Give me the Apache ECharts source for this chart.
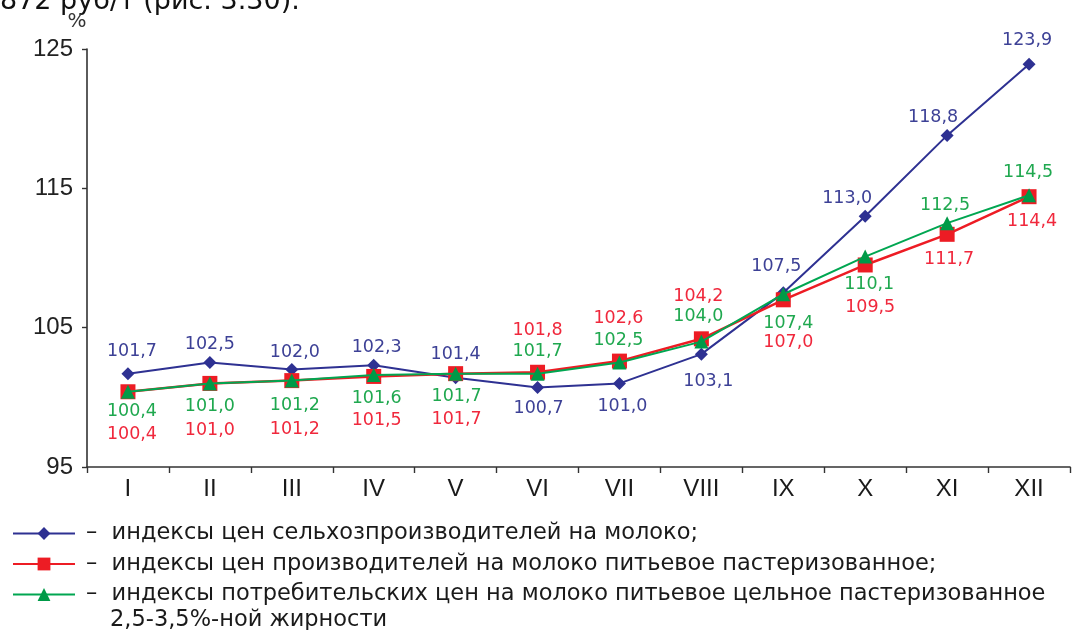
<!DOCTYPE html>
<html>
<head>
<meta charset="utf-8">
<script src="https://cdn.jsdelivr.net/npm/echarts@6/dist/echarts.min.js"></script>
<style>
  html, body { margin: 0; padding: 0; background: #fff; }
  #chart { width: 1074px; height: 630px; }
</style>
</head>
<body>
<div id="chart"></div>
<script>
// Months of the year
const months = ['I', 'II', 'III', 'IV', 'V', 'VI', 'VII', 'VIII', 'IX', 'X', 'XI', 'XII'];

// Price indices, % (cumulative to December of the previous year)
const farmPrices     = [101.7, 102.5, 102.0, 102.3, 101.4, 100.7, 101.0, 103.1, 107.5, 113.0, 118.8, 123.9];
const producerPrices = [100.4, 101.0, 101.2, 101.5, 101.7, 101.8, 102.6, 104.2, 107.0, 109.5, 111.7, 114.4];
const consumerPrices = [100.4, 101.0, 101.2, 101.6, 101.7, 101.7, 102.5, 104.0, 107.4, 110.1, 112.5, 114.5];

// Value axis range
const yMin = 95;
const yMax = 125;
const yStep = 10;

const seriesNames = [
  '–  индексы цен сельхозпроизводителей на молоко;',
  '–  индексы цен производителей на молоко питьевое пастеризованное;',
  '–  индексы потребительских цен на молоко питьевое цельное пастеризованное'
];
const legendTail = '2,5-3,5%-ной жирности';

// Label placement around each marker (dx, dy in px)
const farmLabelOffsets = [[4,-22],[0,-18],[3,-17],[3,-18],[0,-23],[1,21],[3,23],[7,27],[-7,-26],[-18,-18],[-14,-18],[-2,-24]];
const producerLabelOffsets = [[4,43],[0,47],[3,49],[3,44],[1,46],[0,-42],[-1,-43],[-3,-42],[5,43],[5,42],[2,25],[3,25]];
const consumerLabelOffsets = [[4,20],[0,23],[3,25],[3,23],[1,23],[0,-22],[-1,-22],[-3,-25],[5,29],[4,28],[-2,-18],[-1,-23]];

const FONT = 'DejaVu Sans';
const AXIS_FONT = 'Liberation Sans';

function withLabels(values, offsets) {
  return values.map((v, i) => ({ value: v, label: { offset: offsets[i] } }));
}

function labelStyle(color) {
  return {
    show: true,
    position: 'inside',
    color: color,
    fontSize: 17.5,
    fontFamily: FONT,
    formatter: p => p.value.toFixed(1).replace('.', ',')
  };
}

const chart = echarts.init(document.getElementById('chart'), null, { renderer: 'canvas' });

chart.setOption({
  animation: false,
  backgroundColor: '#ffffff',
  grid: { left: 87, right: 4, top: 49, bottom: 163, containLabel: false },
  legend: {
    orient: 'vertical',
    left: 12,
    top: 522,
    padding: 0,
    itemWidth: 62,
    itemHeight: 16,
    itemGap: 7.5,
    selectedMode: false,
    textStyle: { fontFamily: FONT, fontSize: 22.5, color: '#1a1a1a', padding: [0, 0, 0, 6] },
    data: seriesNames
  },
  graphic: [
    {
      type: 'text',
      left: 0,
      top: -12,
      style: { text: '872 руб/т (рис. 3.30).', font: '27px "DejaVu Sans"', fill: '#111' }
    },
    {
      type: 'text',
      left: 110,
      top: 609,
      style: { text: legendTail, font: '22.5px "DejaVu Sans"', fill: '#1a1a1a' }
    }
  ],
  xAxis: {
    type: 'category',
    data: months,
    boundaryGap: true,
    axisLine: { lineStyle: { color: '#333', width: 1.6 } },
    axisTick: { show: true, length: 6, inside: false, lineStyle: { color: '#333', width: 1.4 } },
    axisLabel: { margin: 10, color: '#1a1a1a', fontSize: 24, fontFamily: AXIS_FONT }
  },
  yAxis: {
    type: 'value',
    min: yMin,
    max: yMax,
    interval: yStep,
    name: '%',
    nameLocation: 'end',
    nameGap: 17,
    nameTextStyle: { fontFamily: FONT, fontSize: 20, color: '#333', padding: [0, 20, 0, 0] },
    splitLine: { show: false },
    axisLine: { show: true, lineStyle: { color: '#333', width: 1.6 } },
    axisTick: { show: true, length: 5, lineStyle: { color: '#333', width: 1.4 } },
    axisLabel: { margin: 14, color: '#222', fontSize: 24, fontFamily: AXIS_FONT }
  },
  series: [
    {
      name: seriesNames[0],
      type: 'line',
      data: withLabels(farmPrices, farmLabelOffsets),
      symbol: 'diamond',
      symbolSize: 13,
      z: 2,
      lineStyle: { color: '#2e3192', width: 2 },
      itemStyle: { color: '#2e3192' },
      label: labelStyle('#3d4196')
    },
    {
      name: seriesNames[1],
      type: 'line',
      data: withLabels(producerPrices, producerLabelOffsets),
      symbol: 'rect',
      symbolSize: 15,
      z: 3,
      lineStyle: { color: '#ed1c24', width: 2.5 },
      itemStyle: { color: '#ed1c24' },
      label: labelStyle('#f0283c')
    },
    {
      name: seriesNames[2],
      type: 'line',
      data: withLabels(consumerPrices, consumerLabelOffsets),
      symbol: 'triangle',
      symbolSize: 14,
      z: 4,
      lineStyle: { color: '#00a651', width: 2 },
      itemStyle: { color: '#009a48' },
      label: labelStyle('#1fa84f')
    }
  ]
});
</script>
</body>
</html>
